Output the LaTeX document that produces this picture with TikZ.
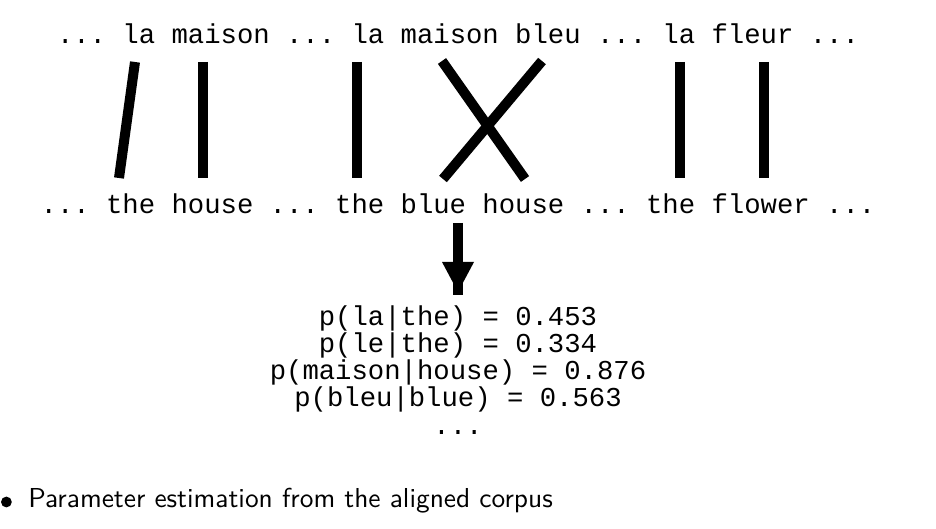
\documentclass[tikz,border=0pt]{standalone}
\usepackage{fontspec}
\setmonofont{Liberation Mono}
\newfontfamily\itemfont{lmsans10-regular.otf}
\usetikzlibrary{arrows.meta}

\tikzset{
    words/.style={font=\ttfamily\fontsize{19.4}{19.4}\selectfont, inner sep=0pt},
    link/.style={line width=0.25cm, black}
}

\begin{document}
\begin{tikzpicture}
    \useasboundingbox(0, 0) rectangle (23.4, 13.225);

    % the two sentences
    \node[words, anchor=base](fr) at (11.45, 12.14){... la maison ... la maison bleu ... la fleur ...};
    \node[words, anchor=base](en) at (11.45, 7.89){... the house ... the blue house ... the flower ...};

    % word alignment
    \coordinate(la1) at (3.375, 11.675);    \coordinate(the1) at (2.975, 8.775);
    \coordinate(maison1) at (5.075, 11.675);\coordinate(house1) at (5.075, 8.775);
    \coordinate(la2) at (8.925, 11.675);    \coordinate(the2) at (8.925, 8.775);
    \coordinate(maison2) at (11.05, 11.7);  \coordinate(house2) at (13.125, 8.75);
    \coordinate(bleu) at (13.55, 11.7);     \coordinate(blue) at (11.075, 8.75);
    \coordinate(la3) at (17.0, 11.675);     \coordinate(the3) at (17.0, 8.775);
    \coordinate(fleur) at (19.1, 11.675);   \coordinate(flower) at (19.1, 8.775);

    \draw[link](la1)--(the1);
    \draw[link](maison1)--(house1);
    \draw[link](la2)--(the2);
    \draw[link](maison2)--(house2);
    \draw[link](bleu)--(blue);
    \draw[link](la3)--(the3);
    \draw[link](fleur)--(flower);

    % estimation arrow
    \coordinate(arrtop) at (11.45, 7.65);
    \coordinate(arrend) at (11.45, 5.85);
    \draw[link](arrtop)--(arrend);
    \fill[black](11.05, 6.675)--(11.85, 6.675)--(11.45, 5.925)--cycle;

    % the last line sets the base of the node
    \node[words, align=center, anchor=base](probs) at (11.45, 2.37){p(la|the) = 0.453\\ p(le|the) = 0.334\\ p(maison|house) = 0.876\\ p(bleu|blue) = 0.563\\ ...};

    % bullet point
    \fill[black](0.16, 0.675)circle(0.135);
    \node[anchor=base west, inner sep=0pt, font=\itemfont\fontsize{19.5}{19.5}\selectfont](item) at (0.7, 0.525){Parameter estimation from the aligned corpus};
\end{tikzpicture}
\end{document}
